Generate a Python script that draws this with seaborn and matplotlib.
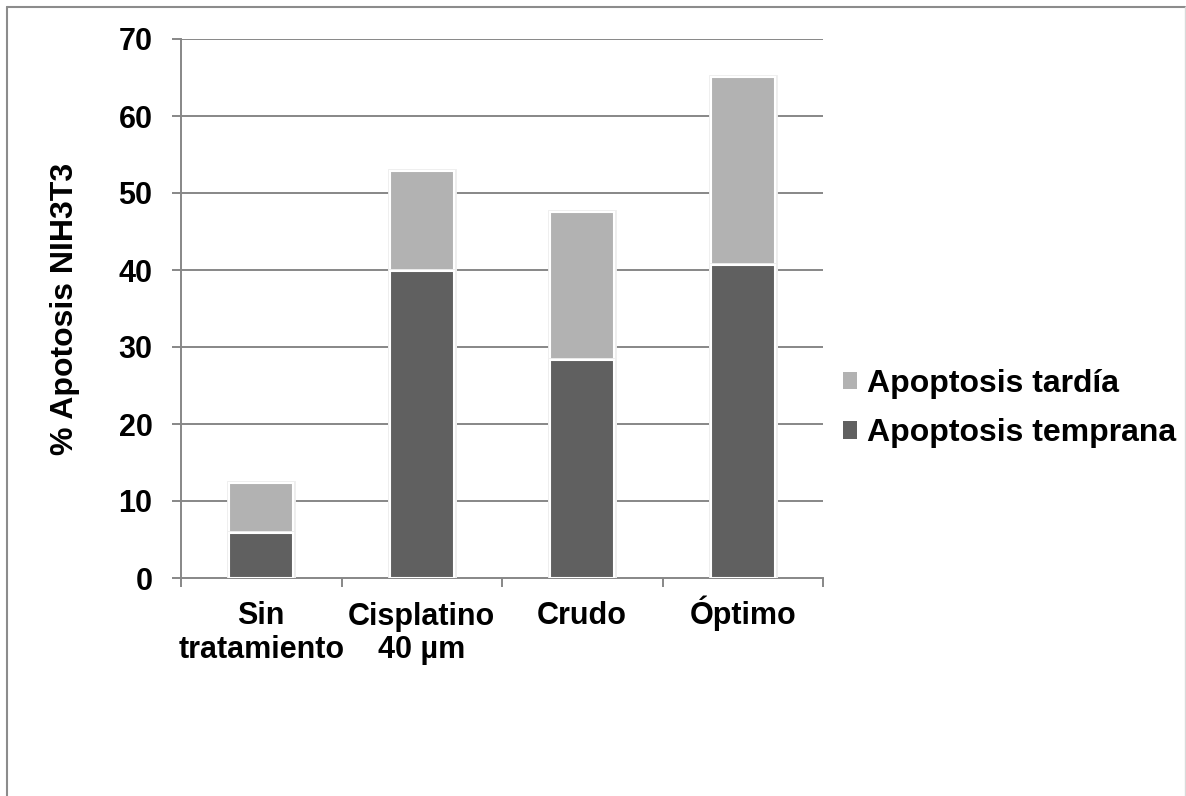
import matplotlib
matplotlib.use("Agg")
import matplotlib.pyplot as plt
import matplotlib.patheffects as pe
import matplotlib.transforms as mtransforms
from matplotlib.patches import Patch
from matplotlib.lines import Line2D
import seaborn as sns
import pandas as pd

# Data: apoptosis percentages for NIH3T3 cells
categories = ["Sin\ntratamiento", "Cisplatino\n40 µm", "Crudo", "Óptimo"]
temprana = [5.9, 39.9, 28.3, 40.7]
tardia = [6.5, 13.0, 19.2, 24.4]
series_labels = ["Apoptosis tardía", "Apoptosis temprana"]
yticks = [0, 10, 20, 30, 40, 50, 60, 70]

total = [a + b for a, b in zip(temprana, tardia)]
df = pd.DataFrame({"cat": categories, "temprana": temprana, "total": total})

sns.set_theme(style="white")
plt.rcParams["font.family"] = ["Liberation Sans", "DejaVu Sans"]
plt.rcParams["font.weight"] = "bold"
plt.rcParams["text.color"] = "black"
plt.rcParams["axes.labelcolor"] = "black"
plt.rcParams["xtick.color"] = "black"
plt.rcParams["ytick.color"] = "black"

DARK = "#606060"
LIGHT = "#b2b2b2"
GRID = "#878787"

fig = plt.figure(figsize=(11.86, 7.96), dpi=100)
ax = fig.add_axes([181 / 1186, 218 / 796, (823 - 181) / 1186, (578 - 39) / 796])

shadow = [pe.Stroke(linewidth=3.5, foreground="#eeeeee"), pe.Normal()]

sns.barplot(data=df, x="cat", y="total", color=LIGHT, width=0.4, ax=ax,
            saturation=1, edgecolor="white", linewidth=1.5, zorder=3)
sns.barplot(data=df, x="cat", y="temprana", color=DARK, width=0.4, ax=ax,
            saturation=1, edgecolor="white", linewidth=1.5, zorder=4)
for p in ax.patches:
    p.set_path_effects(shadow)

ax.set_xlim(-0.5, len(categories) - 0.5)
ax.set_ylim(0, 70)
ax.set_yticks(yticks)
ax.set_xlabel("")
ax.set_ylabel("% Apotosis NIH3T3", fontsize=23, fontweight="bold", labelpad=28,
              color="black")

ax.grid(False)
for y in yticks[1:]:
    ax.axhline(y, color=GRID, linewidth=1.4, zorder=1)

for side in ["top", "right"]:
    ax.spines[side].set_visible(False)
for side in ["left", "bottom"]:
    ax.spines[side].set_color(GRID)
    ax.spines[side].set_linewidth(1.4)

ax.tick_params(axis="y", which="major", direction="out", length=6.5, width=1.4,
               color=GRID, labelcolor="black", labelsize=22, pad=14, left=True)
ax.tick_params(axis="x", which="major", length=0, labelsize=22, pad=0,
               labelcolor="black")
ax.set_xticks([i - 0.5 for i in range(len(categories) + 1)], minor=True)
ax.tick_params(axis="x", which="minor", direction="out", length=6.5, width=1.4,
               color=GRID, bottom=True)

# Category labels: two-line labels hang from the top, single-line labels sit
# on the same baseline as the first line of the others
top_shift = mtransforms.ScaledTranslation(0, -23.5 / 100, fig.dpi_scale_trans)
base_shift = mtransforms.ScaledTranslation(0, -46 / 100, fig.dpi_scale_trans)
for lab in ax.get_xticklabels():
    lab.set_fontweight("bold")
    lab.set_linespacing(1.15)
    if "\n" in lab.get_text():
        lab.set_verticalalignment("top")
        lab.set_transform(lab.get_transform() + top_shift)
    else:
        lab.set_verticalalignment("baseline")
        lab.set_transform(lab.get_transform() + base_shift)
for lab in ax.get_yticklabels():
    lab.set_fontweight("bold")

handles = [Patch(facecolor=LIGHT, edgecolor="none"),
           Patch(facecolor=DARK, edgecolor="none")]
fig.legend(handles, series_labels, loc="center left",
           bbox_to_anchor=(814 / 1186, 1 - 408.5 / 796), frameon=False,
           prop={"size": 23, "weight": "bold"}, handlelength=0.45,
           handleheight=0.45, handletextpad=0.3, labelspacing=0.62,
           labelcolor="black")

# Outer frame of the chart area
fig.add_artist(Line2D([7 / 1186, 7 / 1186], [0, 1 - 7 / 796], transform=fig.transFigure,
                      color="#8c8c8c", linewidth=1.5))
fig.add_artist(Line2D([7 / 1186, 1185 / 1186], [1 - 7 / 796, 1 - 7 / 796],
                      transform=fig.transFigure, color="#8c8c8c", linewidth=1.5))
fig.add_artist(Line2D([1185 / 1186, 1185 / 1186], [0, 1 - 7 / 796], transform=fig.transFigure,
                      color="#d9d9d9", linewidth=1.0))

fig.savefig("out.png", dpi=100, facecolor="white")
